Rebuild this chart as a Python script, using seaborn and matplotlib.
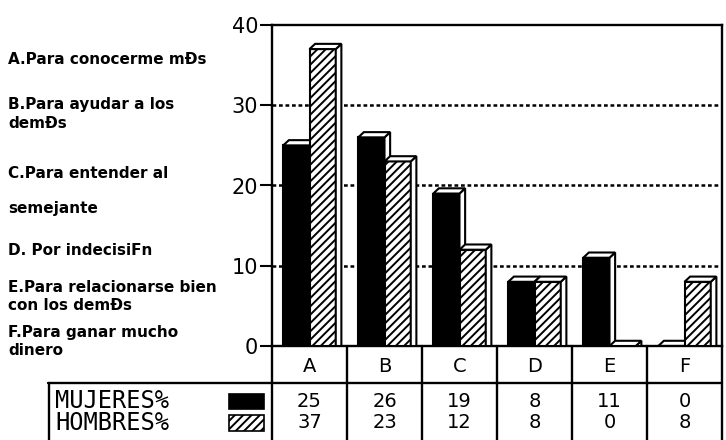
import matplotlib
matplotlib.use("Agg")
import matplotlib.pyplot as plt
from matplotlib.patches import Polygon, Rectangle
import seaborn as sns
import pandas as pd

# Survey data: reasons for choosing the career, by sex (%)
categorias = ["A", "B", "C", "D", "E", "F"]
mujeres = [25, 26, 19, 8, 11, 0]
hombres = [37, 23, 12, 8, 0, 8]
series = ["MUJERES%", "HOMBRES%"]
ticks_y = [0, 10, 20, 30, 40]
leyenda = [
    "A.Para conocerme mÐs",
    "B.Para ayudar a los\ndemÐs",
    "C.Para entender al",
    "semejante",
    "D. Por indecisiFn",
    "E.Para relacionarse bien\ncon los demÐs",
    "F.Para ganar mucho\ndinero",
]

df = pd.DataFrame({
    "categoria": categorias * 2,
    "valor": mujeres + hombres,
    "sexo": [series[0]] * len(categorias) + [series[1]] * len(categorias),
})

sns.set_theme(style="white")
plt.rcParams["font.family"] = ["DejaVu Sans"]
plt.rcParams["text.color"] = "black"
plt.rcParams["axes.labelcolor"] = "black"
plt.rcParams["xtick.color"] = "black"
plt.rcParams["ytick.color"] = "black"
plt.rcParams["hatch.linewidth"] = 1.4
plt.rcParams["hatch.color"] = "black"

W, H = 726, 440
fig = plt.figure(figsize=(W / 100, H / 100), dpi=100)
fig.patch.set_facecolor("white")


def fx(px):
    return px / W


def fy(py):
    return 1 - py / H


# main plotting area
ax = fig.add_axes([fx(272), fy(346), fx(722) - fx(272), fy(25) - fy(346)])
sns.barplot(data=df, x="categoria", y="valor", hue="sexo", order=categorias,
            hue_order=series, palette=["black", "white"], width=0.7,
            edgecolor="black", linewidth=1.5, legend=False, ax=ax,
            errorbar=None)
ax.set_xlim(-0.5, len(categorias) - 0.5)
ax.set_ylim(0, 40)

# pseudo-3D faces (top and right side) for every bar
dx, dy = 0.075, 0.65
n = len(categorias)
for i, p in enumerate(ax.patches):
    hatched = i >= n
    z = 3 if hatched else 2
    p.set_zorder(z)
    if hatched:
        p.set_hatch("////")
    x0, w, h = p.get_x(), p.get_width(), p.get_height()
    x1 = x0 + w
    top = Polygon([(x0, h), (x1, h), (x1 + dx, h + dy), (x0 + dx, h + dy)],
                  closed=True, facecolor="white", edgecolor="black",
                  linewidth=1.5, zorder=z + 0.1)
    side = Polygon([(x1, 0), (x1, h), (x1 + dx, h + dy), (x1 + dx, 0)],
                   closed=True, facecolor="white", edgecolor="black",
                   linewidth=1.5, zorder=z + 0.1)
    ax.add_patch(side)
    ax.add_patch(top)

for v in ticks_y[1:-1]:
    ax.axhline(v, color="black", linewidth=1.8, linestyle=(0, (1.5, 1.1)),
               zorder=1)

ax.set_yticks(ticks_y)
ax.set_yticklabels([str(v) for v in ticks_y], fontsize=15)
ax.set_xticks([])
ax.set_xlabel("")
ax.set_ylabel("")
ax.tick_params(axis="y", length=9, width=1.5, color="black", pad=1,
               left=True, direction="out", labelcolor="black")
for s in ["left", "top", "right", "bottom"]:
    ax.spines[s].set_visible(True)
    ax.spines[s].set_color("black")
    ax.spines[s].set_linewidth(1.7)
ax.set_facecolor("white")

# data table under the bars
tax = fig.add_axes([fx(272), 0, fx(722) - fx(272), fy(346)])
tax.set_xlim(-0.5, n - 0.5)
tax.set_ylim(94, 0)
tax.axis("off")
for k in range(n + 1):
    tax.plot([k - 0.5, k - 0.5], [0, 94], color="black", linewidth=1.7,
             clip_on=False)
tax.plot([-0.5, n - 0.5], [37, 37], color="black", linewidth=1.7,
         clip_on=False)
for k, c in enumerate(categorias):
    tax.text(k, 20, c, ha="center", va="center", fontsize=14)
    tax.text(k, 55, str(mujeres[k]), ha="center", va="center", fontsize=14)
    tax.text(k, 76, str(hombres[k]), ha="center", va="center", fontsize=14)

# series key to the left of the table
lax = fig.add_axes([fx(48), 0, fx(272) - fx(48), fy(383)])
lax.set_xlim(48, 272)
lax.set_ylim(440, 383)
lax.axis("off")
lax.plot([48, 272], [383, 383], color="black", linewidth=1.7, clip_on=False)
lax.plot([48.5, 48.5], [383, 440], color="black", linewidth=1.7,
         clip_on=False)
lax.text(55, 401, series[0], ha="left", va="center", fontsize=17,
         family="DejaVu Sans Mono")
lax.text(55, 423, series[1], ha="left", va="center", fontsize=17,
         family="DejaVu Sans Mono")
lax.add_patch(Rectangle((229, 394), 35, 15, facecolor="black",
                        edgecolor="black", linewidth=1.2))
lax.add_patch(Rectangle((229, 415), 35, 16, facecolor="white",
                        edgecolor="black", linewidth=1.2, hatch="////"))

# category descriptions
ypos = [60, 114, 173, 208, 250, 296, 341]
for txt, yp in zip(leyenda, ypos):
    fig.text(fx(8), fy(yp), txt, ha="left", va="center", fontsize=11,
             fontweight="bold", linespacing=1.25)

fig.savefig("out.png", dpi=100, facecolor="white")
